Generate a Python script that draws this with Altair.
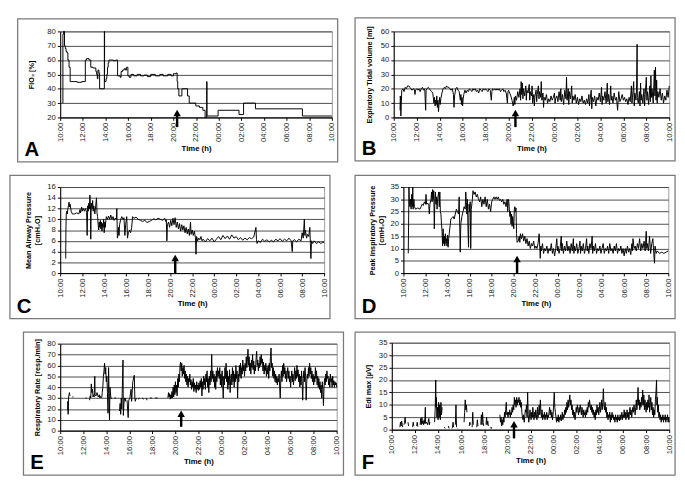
import altair as alt
import pandas as pd

FONT = "Liberation Sans"
TIME_TICKS = list(range(0, 25, 2))
LABEL_EXPR = "format((datum.value + 10) % 24, '02d') + ':00'"

# ---------------- data (hours after 10:00, value) ----------------
A_FIO2 = [
    (0.22, 30), (0.24, 78), (0.30, 80), (0.38, 70), (0.45, 68), (0.52, 66), (0.60, 65), (0.68, 60),
    (0.78, 55), (0.88, 45), (1.50, 44.5), (1.90, 45), (2.22, 60), (2.32, 61), (2.55, 60), (2.70, 55),
    (2.90, 54.5), (3.15, 52), (3.22, 50), (3.28, 47), (3.33, 53), (3.42, 51), (3.48, 40), (3.88, 40),
    (3.90, 80), (3.92, 45), (4.05, 47), (4.12, 50), (4.18, 55), (4.24, 58), (4.30, 60), (4.70, 59.5),
    (4.90, 60), (5.07, 49), (5.30, 48), (5.38, 52), (5.50, 53), (5.65, 54), (5.78, 53), (5.85, 55),
    (5.98, 49), (6.10, 48), (6.25, 50), (6.50, 49), (6.80, 50), (7.10, 49), (7.40, 49.5), (7.70, 48.5),
    (8.00, 50), (8.40, 49), (8.80, 50), (9.10, 49), (9.50, 50), (9.80, 49), (10.00, 50.5), (10.25, 51),
    (10.33, 45), (10.38, 40), (10.48, 35), (10.75, 40), (11.25, 35), (11.40, 30), (11.98, 28),
    (12.30, 27), (12.60, 25), (12.80, 20), (12.94, 45), (12.97, 21), (13.95, 25), (15.80, 22),
    (16.20, 30), (17.25, 26), (21.40, 21), (24.00, 21),
]

B_TIDAL = [
    (0.55, 5), (0.57, 15), (0.60, 12), (0.62, 1), (0.65, 8), (0.70, 19), (0.80, 20), (0.90, 18), (1.00, 21),
    (1.10, 20), (1.20, 22), (1.30, 22), (1.40, 21), (1.50, 20), (1.60, 19), (1.70, 20), (1.80, 19.5),
    (1.85, 16), (1.90, 19), (2.00, 20), (2.10, 19), (2.20, 20), (2.30, 18), (2.40, 20), (2.50, 21),
    (2.60, 19), (2.70, 20), (2.78, 5), (2.82, 19), (2.90, 20), (3.00, 21), (3.10, 20), (3.20, 19),
    (3.30, 18), (3.40, 17), (3.50, 10), (3.55, 14), (3.60, 8), (3.65, 12), (3.70, 9), (3.75, 15),
    (3.80, 7), (3.85, 12), (3.90, 4), (3.95, 10), (4.00, 14), (4.05, 9), (4.10, 13), (4.20, 17),
    (4.30, 20), (4.40, 21), (4.50, 20), (4.60, 22), (4.70, 21), (4.80, 21), (4.90, 20), (5.00, 19),
    (5.10, 20), (5.20, 16), (5.25, 7), (5.30, 15), (5.40, 20), (5.50, 21), (5.60, 19), (5.70, 18),
    (5.80, 12), (5.85, 16), (5.90, 9), (5.95, 14), (6.00, 8), (6.05, 13), (6.10, 16), (6.20, 19),
    (6.30, 17), (6.40, 19), (6.50, 18), (6.60, 20), (6.70, 19), (6.80, 18), (6.90, 20), (7.00, 19),
    (7.10, 20), (7.20, 18), (7.30, 19), (7.40, 17), (7.50, 20), (7.60, 19), (7.70, 18), (7.80, 20),
    (7.90, 19), (8.00, 20), (8.10, 19), (8.20, 18), (8.30, 20), (8.40, 19), (8.50, 12), (8.55, 18),
    (8.60, 20), (8.70, 19), (8.80, 20), (8.90, 19), (9.00, 20), (9.10, 19), (9.20, 20), (9.30, 18),
    (9.40, 19), (9.50, 20), (9.60, 18), (9.70, 19), (9.80, 17), (9.90, 10), (9.95, 18), (10.00, 19),
    (10.10, 17), (10.20, 15), (10.30, 12), (10.40, 8), (10.45, 10), (10.50, 14), (10.55, 9), (10.60, 15),
    (10.70, 12), (10.80, 18), (10.90, 14), (11.00, 20), (11.05, 12), (11.10, 25), (11.15, 16), (11.20, 24),
    (11.25, 13), (11.30, 20), (11.40, 15), (11.50, 22), (11.55, 12), (11.60, 19), (11.70, 17), (11.80, 23),
    (11.85, 12), (11.90, 18), (12.00, 15), (12.05, 22), (12.10, 10), (12.20, 16), (12.25, 8), (12.30, 15),
    (12.40, 19), (12.45, 11), (12.50, 16), (12.60, 22), (12.65, 13), (12.70, 18), (12.80, 14), (12.85, 25),
    (12.90, 12), (13.00, 17), (13.05, 7), (13.10, 14), (13.20, 12), (13.30, 16), (13.40, 10), (13.50, 13),
    (13.60, 11), (13.70, 15), (13.80, 12), (13.90, 14), (14.00, 17), (14.05, 10), (14.10, 13), (14.20, 15),
    (14.30, 11), (14.40, 18), (14.50, 12), (14.55, 20), (14.60, 11), (14.70, 16), (14.80, 9), (14.90, 19),
    (15.00, 13), (15.05, 28), (15.10, 12), (15.20, 20), (15.25, 9), (15.30, 18), (15.40, 13), (15.50, 22),
    (15.55, 10), (15.60, 15), (15.70, 12), (15.80, 16), (15.90, 10), (16.00, 14), (16.10, 9), (16.20, 13),
    (16.30, 11), (16.40, 15), (16.50, 10), (16.60, 12), (16.70, 9), (16.80, 13), (16.90, 10), (17.00, 16),
    (17.05, 8), (17.10, 12), (17.20, 19), (17.25, 6), (17.30, 14), (17.40, 11), (17.50, 15), (17.60, 8),
    (17.70, 14), (17.80, 12), (17.90, 17), (18.00, 11), (18.10, 21), (18.15, 9), (18.20, 15), (18.30, 12),
    (18.40, 18), (18.50, 10), (18.60, 24), (18.65, 11), (18.70, 16), (18.80, 9), (18.90, 22), (18.95, 12),
    (19.00, 15), (19.10, 10), (19.20, 17), (19.30, 12), (19.40, 14), (19.50, 5), (19.55, 12), (19.60, 18),
    (19.70, 11), (19.80, 13), (19.90, 16), (20.00, 12), (20.10, 14), (20.20, 11), (20.30, 13), (20.40, 9),
    (20.50, 14), (20.60, 11), (20.70, 22), (20.75, 10), (20.80, 14), (20.90, 25), (20.95, 8), (21.00, 17),
    (21.10, 12), (21.15, 20), (21.20, 51), (21.22, 14), (21.30, 10), (21.40, 18), (21.45, 8), (21.50, 24),
    (21.55, 12), (21.60, 16), (21.70, 10), (21.80, 20), (21.85, 8), (21.90, 15), (22.00, 28), (22.05, 12),
    (22.10, 18), (22.20, 9), (22.30, 22), (22.35, 11), (22.40, 29), (22.45, 14), (22.50, 20), (22.60, 10),
    (22.70, 33), (22.75, 15), (22.80, 35), (22.85, 12), (22.90, 26), (22.95, 10), (23.00, 18), (23.10, 14),
    (23.20, 20), (23.30, 12), (23.40, 17), (23.50, 10), (23.60, 15), (23.70, 12), (23.80, 19), (23.90, 14),
    (24.00, 22),
]

C_MAP = [
    (0.50, 2.7), (0.52, 8), (0.55, 11), (0.60, 11.5), (0.65, 11), (0.70, 12), (0.75, 12.5), (0.80, 13.2),
    (0.85, 12.3), (0.90, 12.8), (1.00, 11.5), (1.10, 11), (1.30, 11), (1.50, 11.2), (1.70, 11), (1.80, 11.8),
    (1.85, 11.2), (1.95, 12.3), (2.00, 11.5), (2.10, 12), (2.20, 11.5), (2.30, 12), (2.40, 11.3), (2.45, 7),
    (2.50, 12.5), (2.55, 11.5), (2.60, 13), (2.65, 12), (2.70, 14.5), (2.75, 12.5), (2.78, 6.3), (2.82, 13),
    (2.90, 12), (2.95, 13.5), (3.00, 11.5), (3.05, 12.5), (3.15, 11), (3.30, 14), (3.35, 11.2), (3.40, 10.5),
    (3.45, 9), (3.50, 8), (3.55, 9.5), (3.60, 8.5), (3.65, 9.8), (3.70, 8.2), (3.75, 9.5), (3.80, 7.8),
    (3.85, 9.2), (3.90, 8.5), (3.95, 10), (4.00, 7.5), (4.05, 9.5), (4.10, 8.5), (4.15, 9.8), (4.20, 10.5),
    (4.30, 10), (4.40, 10.6), (4.50, 10), (4.60, 10.8), (4.70, 10), (4.80, 10.5), (4.90, 9.8), (5.00, 10.2),
    (5.10, 10), (5.15, 12), (5.20, 6.5), (5.25, 7), (5.30, 8.5), (5.35, 7), (5.40, 9), (5.50, 10),
    (5.60, 10.5), (5.70, 10), (5.80, 10.3), (5.88, 7), (5.95, 9), (6.05, 10.5), (6.12, 6.5), (6.20, 7.5),
    (6.30, 8), (6.40, 7.5), (6.50, 8.5), (6.58, 10.5), (6.70, 10.2), (6.90, 10.4), (7.10, 10), (7.30, 9.8),
    (7.50, 9.6), (7.70, 9.8), (7.90, 9.4), (8.10, 9.6), (8.30, 9.8), (8.50, 10.1), (8.70, 9.9), (8.90, 10.2),
    (9.10, 10), (9.30, 9.8), (9.50, 10.2), (9.60, 9.6), (9.65, 9.9), (9.70, 6), (9.75, 9), (9.85, 9.5),
    (9.95, 8.5), (10.05, 9.8), (10.15, 8.8), (10.25, 10.2), (10.35, 9), (10.45, 10.3), (10.55, 8.5),
    (10.65, 9.5), (10.75, 8.2), (10.85, 9.2), (10.95, 7.8), (11.05, 9), (11.15, 8), (11.25, 8.8),
    (11.35, 7.5), (11.45, 8.5), (11.55, 7.3), (11.65, 8.2), (11.75, 7), (11.85, 9.5), (11.90, 7.2),
    (12.00, 8), (12.10, 7), (12.20, 7.8), (12.30, 6.5), (12.35, 3.5), (12.40, 6.8), (12.50, 6), (12.60, 6.5),
    (12.70, 6.2), (12.80, 6.8), (12.90, 6), (13.00, 6.3), (13.20, 5.8), (13.40, 6.4), (13.60, 6), (13.80, 6.5),
    (14.00, 5.8), (14.20, 6.3), (14.40, 6.8), (14.60, 6.2), (14.80, 7), (15.00, 6.4), (15.20, 6.9),
    (15.40, 6.3), (15.60, 7.1), (15.80, 6.5), (16.00, 6.8), (16.20, 6.2), (16.40, 6.6), (16.60, 6.1),
    (16.80, 6.5), (17.00, 6.2), (17.20, 6.6), (17.40, 6.4), (17.60, 6.7), (17.80, 8.5), (17.85, 6.2),
    (17.90, 5.5), (18.00, 6), (18.20, 5.7), (18.40, 6.3), (18.60, 5.9), (18.80, 6.2), (19.00, 5.8),
    (19.20, 6.1), (19.40, 5.8), (19.60, 6.3), (19.80, 6), (20.00, 6.4), (20.20, 5.9), (20.40, 6.3),
    (20.60, 6), (20.80, 6.5), (21.00, 6), (21.10, 4), (21.15, 6), (21.30, 6.2), (21.50, 5.8), (21.70, 6.3),
    (21.90, 6), (22.00, 7.5), (22.10, 6.5), (22.20, 10), (22.25, 7), (22.30, 8), (22.40, 6.5), (22.50, 7.2),
    (22.60, 6.8), (22.70, 8.5), (22.75, 5.5), (22.80, 2.7), (22.85, 6), (22.95, 5.5), (23.10, 6),
    (23.30, 5.5), (23.50, 5.8), (23.70, 5.5), (23.90, 5.8), (24.00, 5.6),
]

D_PIP = [
    (0.44, 8), (0.47, 20), (0.50, 35), (0.55, 28), (0.60, 27), (0.65, 30), (0.70, 26), (0.75, 32), (0.80, 27),
    (0.85, 35), (0.88, 26), (0.95, 30), (1.00, 27), (1.10, 26), (1.30, 26.5), (1.50, 26), (1.60, 27),
    (1.70, 28), (1.80, 27.5), (1.90, 29), (2.00, 28), (2.05, 32), (2.10, 28), (2.20, 28.5), (2.30, 27.5),
    (2.35, 24), (2.40, 28), (2.50, 30), (2.55, 33), (2.60, 29), (2.65, 34), (2.70, 30), (2.75, 33.5),
    (2.80, 18), (2.85, 30), (2.90, 33), (2.95, 28), (3.00, 31), (3.05, 26), (3.10, 30), (3.20, 33),
    (3.25, 27), (3.30, 33), (3.35, 25), (3.40, 24), (3.45, 20), (3.50, 17), (3.55, 11), (3.60, 18),
    (3.65, 12), (3.70, 15), (3.75, 11), (3.80, 16), (3.85, 12), (3.90, 14), (3.95, 11), (4.00, 15.5),
    (4.05, 10.5), (4.10, 14), (4.15, 16), (4.25, 20), (4.30, 22), (4.40, 22.5), (4.50, 23), (4.60, 22),
    (4.70, 24), (4.80, 26), (4.90, 25), (5.00, 24), (5.05, 31), (5.10, 20), (5.15, 8.5), (5.20, 20),
    (5.30, 23), (5.40, 25), (5.50, 27), (5.60, 26), (5.65, 33), (5.70, 29), (5.75, 24), (5.80, 30),
    (5.85, 18), (5.90, 10.5), (5.95, 28), (6.00, 25), (6.05, 29), (6.10, 10), (6.15, 26), (6.25, 30),
    (6.30, 33.5), (6.40, 32), (6.50, 33), (6.60, 31), (6.70, 32), (6.80, 30), (6.90, 29), (7.00, 31),
    (7.10, 27), (7.20, 30), (7.30, 28), (7.40, 31), (7.50, 27), (7.60, 30), (7.70, 26), (7.80, 28),
    (7.90, 25), (8.00, 29), (8.10, 30), (8.20, 31), (8.30, 30), (8.40, 31), (8.50, 30), (8.60, 31),
    (8.70, 29.5), (8.80, 30), (8.90, 29), (9.00, 30), (9.10, 28), (9.20, 29), (9.30, 27), (9.40, 30),
    (9.45, 25), (9.50, 30), (9.55, 29), (9.60, 26), (9.65, 23), (9.70, 25), (9.75, 20), (9.80, 24),
    (9.85, 19), (9.90, 23), (9.95, 21), (10.00, 18), (10.05, 26), (10.10, 27), (10.15, 25), (10.20, 26.5),
    (10.25, 16), (10.30, 12.5), (10.40, 13), (10.50, 15), (10.55, 12.5), (10.60, 16), (10.70, 14),
    (10.80, 16), (10.90, 13), (11.00, 15), (11.10, 12), (11.20, 14), (11.30, 11), (11.40, 13), (11.50, 10),
    (11.60, 12), (11.70, 11), (11.80, 13), (11.90, 10), (12.00, 11), (12.10, 10), (12.20, 12), (12.30, 16),
    (12.35, 11), (12.40, 6), (12.45, 11), (12.50, 9), (12.60, 12), (12.70, 8), (12.80, 10), (12.90, 9),
    (13.00, 11), (13.10, 8), (13.20, 10), (13.30, 9), (13.40, 12), (13.50, 8), (13.60, 10), (13.70, 7),
    (13.80, 10), (13.90, 14), (13.95, 9), (14.00, 11), (14.10, 8), (14.20, 10), (14.30, 15), (14.35, 9),
    (14.40, 12), (14.50, 8), (14.60, 11), (14.70, 9), (14.80, 13), (14.90, 9), (15.00, 11), (15.10, 8),
    (15.20, 12), (15.30, 9), (15.40, 14), (15.45, 8), (15.50, 11), (15.60, 9), (15.70, 12), (15.80, 8),
    (15.90, 10), (16.00, 13), (16.05, 8), (16.10, 11), (16.20, 9), (16.30, 12), (16.40, 8), (16.50, 10),
    (16.60, 14), (16.65, 9), (16.70, 11), (16.80, 8), (16.90, 12), (17.00, 10), (17.10, 15), (17.15, 8),
    (17.20, 11), (17.30, 9), (17.40, 12), (17.50, 8), (17.60, 10), (17.70, 9), (17.80, 11), (17.90, 8),
    (18.00, 10), (18.10, 12), (18.20, 8), (18.30, 10), (18.40, 9), (18.50, 11), (18.60, 8), (18.70, 12),
    (18.80, 9), (18.90, 10), (19.00, 8), (19.10, 11), (19.20, 9), (19.30, 12), (19.40, 8), (19.50, 10),
    (19.60, 9), (19.70, 11), (19.80, 8), (19.90, 10), (20.00, 7), (20.10, 10), (20.20, 8), (20.30, 11),
    (20.40, 8.5), (20.50, 10), (20.60, 7.5), (20.70, 12), (20.75, 9), (20.80, 14), (20.90, 10), (21.00, 11),
    (21.10, 9), (21.20, 12), (21.30, 10), (21.40, 14), (21.50, 9), (21.60, 12), (21.70, 10), (21.80, 13),
    (21.90, 9), (22.00, 17), (22.05, 10), (22.10, 12), (22.20, 9), (22.30, 15), (22.40, 8), (22.50, 12),
    (22.60, 14), (22.70, 7), (22.75, 4), (22.80, 11), (22.90, 8), (23.00, 9), (23.20, 8), (23.40, 8.5),
    (23.60, 8), (23.80, 8.5), (24.00, 9),
]

# None marks a gap in the recording
E_RR = [
    (0.65, 19), (0.67, 27), (0.69, 15), (0.72, 30), (0.76, 33), (0.80, 35), (0.85, 32), None,
    (1.05, 31), (1.15, 31), None,
    (2.20, 30), (2.30, 30), None,
    (2.55, 28), (2.60, 32), (2.65, 30), (2.70, 43), (2.75, 35), (2.80, 38), (2.85, 31), (2.90, 33),
    (2.95, 31), (3.00, 50), (3.03, 33), (3.10, 32), (3.20, 35), (3.30, 31), (3.40, 33), (3.45, 30),
    (3.50, 32), None,
    (3.60, 30), (3.65, 35), (3.70, 40), (3.75, 50), (3.80, 55), (3.85, 62), (3.90, 52), (3.95, 58),
    (4.00, 45), (4.05, 50), (4.10, 35), (4.15, 16), (4.20, 58), (4.25, 30), (4.28, 10), (4.32, 40),
    (4.40, 30), (4.50, 29.5), None,
    (4.70, 30), (4.85, 30), None,
    (5.15, 18), (5.20, 25), (5.25, 15), (5.30, 30), (5.35, 20), (5.45, 65), (5.48, 14), (5.55, 28),
    (5.60, 30), (5.65, 27), (5.70, 30), None,
    (5.80, 28), (5.90, 12), (5.95, 28), (6.05, 30), (6.15, 38), (6.20, 27), (6.30, 45), (6.43, 51),
    (6.48, 30), (6.52, 27), (6.60, 30), None,
    (6.75, 29), (6.90, 30), None,
    (7.10, 30), (7.25, 29), None,
    (7.45, 30), (7.55, 28), None,
    (7.80, 30), (7.95, 30), None,
    (8.25, 30), (8.45, 30), None,
    (9.35, 30), (9.40, 35), (9.45, 31), (9.50, 34), (9.55, 29), (9.60, 33), (9.65, 30), (9.70, 36),
    (9.75, 30), (9.80, 40), (9.85, 31), (9.90, 42), (9.95, 33), (10.00, 45), (10.05, 35), (10.10, 42),
    (10.15, 32), (10.20, 48), (10.25, 40), (10.30, 52), (10.35, 45), (10.40, 60), (10.45, 63), (10.50, 55),
    (10.55, 62), (10.60, 50), (10.65, 58), (10.70, 52), (10.75, 60), (10.80, 48), (10.85, 55), (10.90, 45),
    (10.95, 52), (11.00, 42), (11.05, 50), (11.10, 40), (11.15, 48), (11.20, 45), (11.25, 52), (11.30, 42),
    (11.35, 47), (11.40, 38), (11.45, 45), (11.50, 40), (11.55, 48), (11.60, 36), (11.65, 44), (11.70, 38),
    (11.75, 42), (11.80, 35), (11.85, 45), (11.90, 38), (11.95, 42), (12.00, 37), (12.05, 44), (12.10, 38),
    (12.15, 46), (12.20, 40), (12.25, 48), (12.30, 32), (12.35, 45), (12.40, 38), (12.45, 50), (12.50, 42),
    (12.55, 48), (12.60, 38), (12.65, 52), (12.70, 45), (12.75, 55), (12.80, 40), (12.85, 48), (12.90, 35),
    (12.95, 50), (13.00, 42), (13.05, 55), (13.10, 45), (13.15, 70), (13.20, 48), (13.25, 55), (13.30, 45),
    (13.35, 52), (13.40, 40), (13.45, 50), (13.50, 38), (13.55, 55), (13.60, 45), (13.65, 58), (13.70, 50),
    (13.75, 55), (13.80, 48), (13.85, 58), (13.90, 42), (13.95, 52), (14.00, 40), (14.05, 55), (14.10, 45),
    (14.15, 30), (14.20, 50), (14.25, 42), (14.30, 58), (14.35, 48), (14.40, 62), (14.45, 45), (14.50, 55),
    (14.55, 38), (14.60, 50), (14.65, 42), (14.70, 56), (14.75, 35), (14.80, 48), (14.85, 52), (14.90, 42),
    (14.95, 58), (15.00, 45), (15.05, 55), (15.10, 40), (15.15, 52), (15.20, 45), (15.25, 60), (15.30, 48),
    (15.35, 55), (15.40, 30), (15.45, 52), (15.50, 45), (15.55, 60), (15.60, 50), (15.65, 62), (15.70, 48),
    (15.75, 58), (15.80, 52), (15.85, 65), (15.90, 55), (15.95, 60), (16.00, 50), (16.05, 62), (16.10, 55),
    (16.15, 68), (16.20, 58), (16.25, 65), (16.30, 75), (16.35, 60), (16.40, 68), (16.45, 55), (16.50, 62),
    (16.55, 52), (16.60, 65), (16.65, 58), (16.70, 70), (16.75, 56), (16.80, 64), (16.85, 52), (16.90, 60),
    (16.95, 55), (17.00, 66), (17.05, 73), (17.10, 60), (17.15, 65), (17.20, 55), (17.25, 62), (17.30, 58),
    (17.35, 68), (17.40, 60), (17.45, 70), (17.50, 62), (17.55, 66), (17.60, 55), (17.65, 63), (17.70, 52),
    (17.75, 60), (17.80, 55), (17.85, 62), (17.90, 50), (17.95, 58), (18.00, 52), (18.05, 60), (18.10, 48),
    (18.15, 62), (18.20, 55), (18.25, 68), (18.30, 76), (18.35, 58), (18.40, 62), (18.45, 50), (18.50, 58),
    (18.55, 48), (18.60, 55), (18.65, 45), (18.70, 52), (18.75, 44), (18.80, 50), (18.85, 42), (18.90, 48),
    (18.95, 45), (19.00, 52), (19.05, 40), (19.10, 30), (19.15, 48), (19.20, 55), (19.25, 45), (19.30, 60),
    (19.35, 50), (19.40, 62), (19.45, 52), (19.50, 58), (19.55, 48), (19.60, 55), (19.65, 45), (19.70, 52),
    (19.75, 58), (19.80, 48), (19.85, 55), (19.90, 45), (19.95, 50), (20.00, 40), (20.05, 48), (20.10, 55),
    (20.15, 45), (20.20, 52), (20.25, 42), (20.30, 50), (20.35, 58), (20.40, 46), (20.45, 55), (20.50, 48),
    (20.55, 60), (20.60, 50), (20.65, 56), (20.70, 45), (20.75, 52), (20.80, 40), (20.85, 50), (20.90, 42),
    (20.95, 55), (21.00, 45), (21.05, 28), (21.10, 48), (21.15, 55), (21.20, 45), (21.25, 58), (21.30, 50),
    (21.35, 28), (21.40, 45), (21.45, 52), (21.50, 48), (21.55, 58), (21.60, 50), (21.65, 62), (21.70, 52),
    (21.75, 58), (21.80, 48), (21.85, 55), (21.90, 45), (21.95, 52), (22.00, 42), (22.05, 50), (22.10, 45),
    (22.15, 58), (22.20, 48), (22.25, 55), (22.30, 42), (22.35, 50), (22.40, 40), (22.45, 48), (22.50, 38),
    (22.55, 45), (22.60, 35), (22.65, 42), (22.70, 30), (22.75, 45), (22.80, 38), (22.85, 23), (22.90, 40),
    (22.95, 48), (23.00, 42), (23.05, 52), (23.10, 45), (23.15, 55), (23.20, 48), (23.25, 50), (23.30, 42),
    (23.35, 48), (23.40, 40), (23.45, 52), (23.50, 45), (23.55, 48), (23.60, 40), (23.65, 50), (23.70, 42),
    (23.75, 46), (23.80, 40), (23.85, 45), (23.90, 42), (23.95, 44), (24.00, 40),
]

F_EDI = [
    (0.70, 1), (0.75, 3), (0.80, 1.5), (0.85, 3.5), (0.90, 2), (0.95, 1), None,
    (1.05, 2), (1.10, 3), (1.15, 5), (1.20, 2.5), None,
    (1.40, 3), (1.45, 1.5), None,
    (1.80, 1), (1.85, 3), (1.90, 1.5), None,
    (2.15, 1.5), (2.20, 3), (2.25, 1.2), None,
    (2.45, 2), (2.50, 4.5), (2.55, 2), (2.60, 5), (2.65, 2.5), (2.70, 3.5), (2.75, 2), (2.80, 4),
    (2.85, 2.5), (2.90, 9), (2.93, 2.5), (3.00, 3), (3.10, 2), (3.20, 4.5), (3.25, 2), (3.30, 3), None,
    (3.70, 3), (3.75, 8), (3.80, 20), (3.83, 9), (3.85, 13), (3.90, 5), (3.95, 9), (4.00, 4), (4.05, 11),
    (4.10, 5), (4.15, 10), (4.20, 4), (4.25, 11), (4.30, 6), (4.35, 9), None,
    (4.55, 1), (4.60, 0.5), None,
    (4.90, 1.5), (4.95, 0.5), None,
    (5.20, 0.5), (5.25, 1), (5.30, 3), (5.35, 1), None,
    (5.50, 2), (5.55, 10), (5.60, 1), None,
    (5.70, 0.5), (5.75, 0.3), None,
    (6.25, 3), (6.30, 7), (6.35, 12), (6.40, 8), (6.45, 10), (6.50, 7), None,
    (6.70, 1.5), (6.75, 3), (6.80, 2), None,
    (6.95, 1), (7.00, 7), (7.05, 2), None,
    (7.35, 1), (7.40, 4), (7.45, 1.5), None,
    (7.70, 2), (7.75, 6), (7.80, 2), (7.85, 7), (7.90, 3), (7.95, 1.5), None,
    (8.15, 2), (8.20, 5), (8.25, 2), (8.30, 3.5), (8.35, 1.5), None,
    (8.55, 1), (8.60, 0.5), (8.65, 1), None,
    (9.35, 6), (9.40, 3), (9.45, 5), (9.50, 1.5), (9.55, 4), (9.60, 2), (9.65, 5), (9.70, 3), (9.75, 7),
    (9.80, 5), (9.85, 8), (9.90, 11), (9.95, 6), (10.00, 7), (10.05, 5), (10.10, 7), (10.15, 6), (10.20, 8),
    (10.25, 5), (10.30, 7), (10.35, 6), (10.40, 9), (10.45, 7), (10.50, 10), (10.55, 8), (10.60, 13),
    (10.65, 10), (10.70, 12), (10.75, 9), (10.80, 13), (10.85, 10), (10.90, 12), (10.95, 11), (11.00, 13),
    (11.05, 10), (11.10, 12), (11.15, 9), (11.20, 11), (11.25, 7), (11.30, 5), (11.35, 4), (11.40, 6),
    (11.45, 3), (11.50, 5), (11.55, 8), (11.60, 7), (11.65, 10), (11.70, 5), (11.75, 15), (11.80, 6),
    (11.85, 3), (11.90, 5), (11.95, 8), (12.00, 6), (12.05, 4), (12.10, 7), (12.15, 5), (12.20, 9),
    (12.25, 6), (12.30, 4), (12.35, 7), (12.40, 5), (12.45, 8), (12.50, 6), (12.55, 4), (12.60, 9),
    (12.65, 5), (12.70, 7), (12.75, 10), (12.80, 6), (12.85, 12), (12.90, 7), (12.95, 5), (13.00, 8),
    (13.05, 4), (13.10, 6), (13.15, 5), (13.20, 7), (13.25, 4), (13.30, 6), (13.35, 5), (13.40, 7),
    (13.45, 4), (13.50, 6), (13.55, 5), (13.60, 7), (13.65, 9), (13.70, 6), (13.75, 8), (13.80, 5),
    (13.85, 7), (13.90, 4), (13.95, 6), (14.05, 15), (14.10, 9), (14.15, 7), (14.20, 5), (14.25, 3),
    (14.30, 5), (14.35, 3.5), (14.40, 6), (14.45, 3), (14.50, 5), (14.55, 4), (14.60, 6), (14.65, 3.5),
    (14.70, 5), (14.75, 7), (14.80, 4), (14.85, 6), (14.90, 5), (14.95, 8), (15.00, 6), (15.05, 9),
    (15.10, 7), (15.15, 11), (15.20, 8), (15.25, 12), (15.30, 9), (15.40, 14), (15.45, 10), (15.50, 12),
    (15.55, 8), (15.60, 10), (15.65, 6), (15.70, 8), (15.75, 5), (15.80, 7), (15.85, 4), (15.90, 6),
    (15.95, 9), (16.00, 7), (16.05, 10), (16.10, 8), (16.15, 6), (16.20, 9), (16.25, 7), (16.30, 10),
    (16.35, 8), (16.40, 6), (16.45, 9), (16.50, 7), (16.55, 5), (16.60, 8), (16.65, 6), (16.70, 7),
    (16.75, 5), (16.80, 8), (16.85, 6), (16.90, 9), (16.95, 7), (17.00, 11), (17.05, 9), (17.10, 12),
    (17.15, 10), (17.20, 8), (17.25, 10), (17.30, 7), (17.35, 9), (17.40, 6), (17.45, 8), (17.50, 5),
    (17.55, 7), (17.60, 4), (17.65, 8), (17.70, 6), (17.75, 10), (17.80, 7), (17.85, 9), (17.90, 6),
    (17.95, 8), (18.00, 11), (18.05, 7), (18.10, 9), (18.15, 12), (18.20, 8), (18.25, 11), (18.30, 16.5),
    (18.35, 10), (18.40, 8), (18.45, 11), (18.50, 7), (18.55, 9), (18.60, 5), (18.65, 7), (18.70, 4),
    (18.75, 6), (18.80, 5), (18.85, 7), (18.90, 3), (18.95, 6), (19.00, 4), (19.05, 7), (19.10, 5),
    (19.15, 6), (19.20, 4), (19.25, 5), (19.30, 3), (19.35, 6), (19.40, 4), (19.45, 5), (19.50, 3),
    (19.55, 6), (19.60, 4), (19.65, 5), (19.70, 3.5), (19.75, 6), (19.80, 4), (19.85, 5), (19.90, 7),
    (19.95, 4), (20.00, 6), (20.05, 5), (20.10, 8), (20.15, 5), (20.20, 7), (20.25, 4), (20.30, 6),
    (20.35, 8), (20.40, 5), (20.45, 7), (20.50, 4), (20.55, 6), (20.60, 9), (20.65, 6), (20.70, 8),
    (20.75, 5), (20.80, 7), (20.85, 9), (20.90, 7), (20.95, 10), (21.00, 8), (21.05, 6), (21.10, 9),
    (21.15, 12), (21.20, 8), (21.25, 11), (21.30, 17), (21.35, 10), (21.40, 12), (21.45, 8), (21.50, 11),
    (21.55, 9), (21.60, 13), (21.65, 10), (21.70, 16), (21.75, 10), (21.80, 14), (21.85, 8), (21.90, 12),
    (21.95, 9), (22.00, 7), (22.05, 11), (22.10, 8), (22.15, 12), (22.20, 9), (22.25, 14), (22.30, 7),
    (22.35, 10), (22.40, 13), (22.45, 8), (22.50, 11), (22.55, 6), (22.60, 9), (22.65, 5), (22.70, 8),
    (22.75, 6), (22.80, 12), (22.85, 15), (22.90, 20), (22.93, 10), (22.97, 13), (23.00, 7), (23.05, 10),
    (23.10, 5), (23.15, 7), (23.20, 4), (23.25, 6), (23.30, 3), (23.35, 5), (23.40, 4), (23.45, 6),
    (23.50, 3), (23.55, 5), (23.60, 4), (23.65, 6), (23.70, 3), (23.75, 5), (23.80, 4), (23.85, 6),
    (23.90, 3), (23.95, 5), (24.00, 3),
]

# arrow (time of intervention) per panel
ARROW_T = {"A": 10.33, "B": 10.6, "C": 10.46, "D": 10.3, "E": 10.5, "F": 10.57}


def to_frame(pairs):
    rows, seg = [], 0
    for p in pairs:
        if p is None:
            seg += 1
            continue
        rows.append({"t": p[0], "v": p[1], "seg": seg})
    return pd.DataFrame(rows)


FRAME_W = 331
FRAME_H = 148


def panel(pairs, ymin, ymax, ystep, ytitle, letter, L, T, W, H, title_pad,
          tip, bottom, interp="linear"):
    R = FRAME_W - L - W
    B = FRAME_H - T - H
    x_enc = alt.X(
        "t:Q",
        scale=alt.Scale(domain=[0, 24], nice=False, zero=False),
        axis=alt.Axis(values=TIME_TICKS, labelExpr=LABEL_EXPR, labelAngle=-90,
                      labelOverlap=False, labelFlush=False, grid=False,
                      title="Time (h)", titlePadding=3, titleFontSize=8),
    )
    y_enc = alt.Y(
        "v:Q",
        scale=alt.Scale(domain=[ymin, ymax], nice=False, zero=False),
        axis=alt.Axis(values=list(range(ymin, ymax + 1, ystep)), grid=True,
                      title=ytitle, titlePadding=title_pad, titleFontSize=7.5,
                      labelOverlap=False, labelFlush=False),
    )
    frame = alt.Chart(alt.Data(values=[{}])).mark_rect(
        fillOpacity=0, stroke="#7a7a7a", strokeWidth=1.3
    ).encode(x=alt.value(-L), x2=alt.value(W + R), y=alt.value(-T), y2=alt.value(H + B))
    line = alt.Chart(to_frame(pairs)).mark_line(
        color="black", strokeWidth=1, interpolate=interp
    ).encode(x=x_enc, y=y_enc, detail="seg:N")
    adata = alt.Data(values=[{"t": ARROW_T[letter]}])
    shaft = alt.Chart(adata).mark_rule(color="black", strokeWidth=2.5).encode(
        x=x_enc, y=alt.value(bottom), y2=alt.value(tip + 4)
    )
    head = alt.Chart(adata).mark_point(
        shape="triangle-up", filled=True, color="black", opacity=1, size=60
    ).encode(x=x_enc, y=alt.value(tip + 3.4))
    label = alt.Chart(alt.Data(values=[{}])).mark_text(
        text=letter, font=FONT, fontSize=21, fontWeight="bold", align="left",
        baseline="alphabetic", color="black"
    ).encode(x=alt.value(-L + 7), y=alt.value(H + B - 6))
    return alt.layer(frame, line, shaft, head, label).properties(width=W, height=H)


pA = panel(A_FIO2, 20, 80, 10, "FiO₂ [%]", "A", 44, 13, 281, 89, 12, 81, 99, interp="step-after")
pB = panel(B_TIDAL, 0, 60, 10, "Expiratory Tidal volume [ml]", "B", 40, 14, 285, 89, 7, 81, 99)
pC = panel(C_MAP, 0, 16, 2, ["Mean Airway Pressure", "[cmH₂O]"], "C", 52, 12, 273, 89, 5, 70, 89)
pD = panel(D_PIP, 0, 35, 5, ["Peak Inspiratory Pressure", "[cmH₂O]"], "D", 50, 12, 274, 89, 5, 71, 89)
pE = panel(E_RR, 0, 80, 10, "Respiratory Rate [resp./min]", "E", 38, 12, 286, 90, 5, 69, 86)
pF = panel(F_EDI, 0, 35, 5, "Edi max [µV]", "F", 38, 11, 287, 90, 6, 81, 99)

chart = alt.concat(
    pA, pB, pC, pD, pE, pF, columns=2, spacing={"row": 10, "column": 8},
    align="none", bounds="full"
).properties(
    padding=0, background="white"
).configure_view(
    stroke="#9a9a9a", strokeWidth=1
).configure_axis(
    labelFont=FONT, labelFontSize=8, labelColor="#222222", labelPadding=2,
    titleFont=FONT, titleFontWeight="bold", titleColor="black",
    domainColor="black", domainWidth=1, tickColor="black", tickSize=3, tickWidth=1,
    gridColor="#4a4a4a", gridWidth=1,
)

chart.save("out.html", embed_options={"renderer": "svg", "actions": False})
